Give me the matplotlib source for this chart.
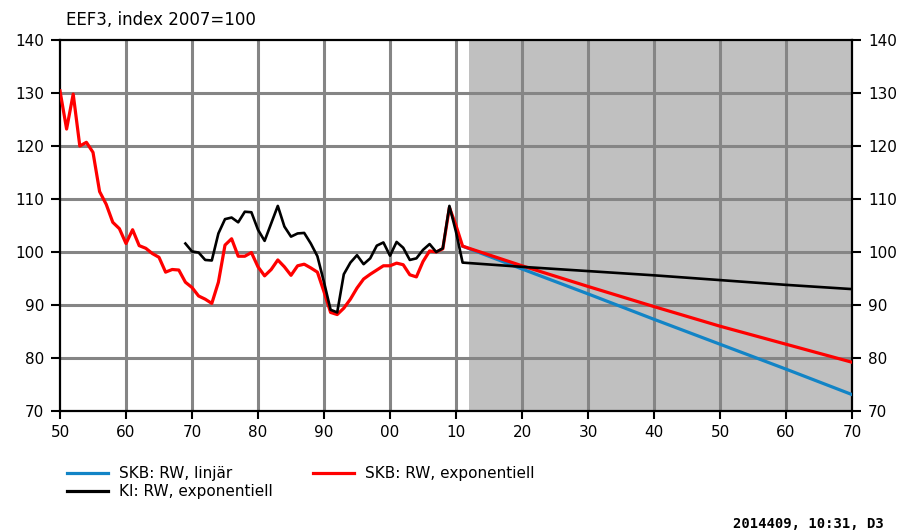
import matplotlib
matplotlib.use('Agg')
import matplotlib.pyplot as plt
from matplotlib.lines import Line2D

# SKB: RW, exponentiell - history 1950-2011
skb_years = list(range(1950, 2012))
skb_values = [130.4, 123.2, 129.8, 120.0, 120.7, 118.8, 111.4, 109.0, 105.6, 104.4,
              101.6, 104.2, 101.2, 100.7, 99.7, 99.0, 96.2, 96.7, 96.6, 94.3,
              93.3, 91.7, 91.1, 90.3, 94.3, 101.3, 102.5, 99.2, 99.2, 99.9,
              97.2, 95.5, 96.7, 98.5, 97.2, 95.6, 97.4, 97.7, 97.0, 96.2,
              92.5, 88.6, 88.2, 89.4, 91.1, 93.2, 94.9, 95.8, 96.6, 97.4,
              97.4, 97.9, 97.6, 95.7, 95.3, 98.2, 100.2, 100.0, 100.6, 108.4,
              105.0, 101.1]

# KI: RW, exponentiell - history 1969-2011
ki_years = list(range(1969, 2012))
ki_values = [101.6, 100.1, 99.9, 98.5, 98.4, 103.5, 106.2, 106.5, 105.6, 107.6,
             107.5, 104.2, 102.1, 105.4, 108.7, 104.8, 102.9, 103.5, 103.6, 101.6,
             99.2, 94.3, 89.1, 88.6, 95.8, 98.0, 99.4, 97.7, 98.8, 101.2,
             101.8, 99.3, 101.9, 100.8, 98.5, 98.8, 100.4, 101.5, 100.0, 100.7,
             108.7, 103.8, 98.0]

# projections 2011-2070
proj_years = [2011, 2020, 2030, 2040, 2050, 2060, 2070]
lin_proj = [101.1, 96.8, 92.1, 87.3, 82.6, 77.9, 73.1]
exp_proj = [101.1, 97.4, 93.5, 89.7, 86.0, 82.6, 79.2]
ki_proj = [98.0, 97.2, 96.4, 95.6, 94.7, 93.8, 93.0]

forecast_start = 2012
xticks = list(range(1950, 2071, 10))
xlabels = ['50', '60', '70', '80', '90', '00', '10', '20', '30', '40', '50', '60', '70']
yticks = list(range(70, 141, 10))

blue = '#1284c6'
red = '#ff0000'

fig = plt.figure(figsize=(9.03, 5.31), dpi=100)
ax = fig.add_axes([60 / 903, 1 - 411 / 531, 792 / 903, 371 / 531])

ax.axvspan(forecast_start, 2070, color='#c0c0c0', zorder=0, lw=0)
for x in xticks[1:-1]:
    ax.axvline(x, color='#858585', lw=2.2, zorder=0.5)
for y in yticks[1:-1]:
    ax.axhline(y, color='#858585', lw=2.2, zorder=0.5)

ax.plot(proj_years, lin_proj, color=blue, lw=2.3, zorder=3)
ax.plot(skb_years + proj_years[1:], skb_values + exp_proj[1:], color=red, lw=2.3, zorder=4)
ax.plot(ki_years + proj_years[1:], ki_values + ki_proj[1:], color='black', lw=1.9, zorder=5)

ax.set_xlim(1950, 2070)
ax.set_ylim(70, 140)
ax.set_xticks(xticks)
ax.set_xticklabels(xlabels)
ax.set_yticks(yticks)
ax.tick_params(axis='both', direction='out', length=6.5, width=1.5, labelsize=11, color='black')
ax.tick_params(axis='y', right=True, labelright=True, pad=5)
ax.tick_params(axis='x', length=6, pad=4)
for s in ax.spines.values():
    s.set_linewidth(1.6)

fig.text(66 / 903, 1 - 20 / 531, 'EEF3, index 2007=100', fontsize=12, va='center', ha='left')

h_blue = Line2D([], [], color=blue, lw=2.3)
h_red = Line2D([], [], color=red, lw=2.3)
h_black = Line2D([], [], color='black', lw=2.3)
fig.legend([h_blue, h_black], ['SKB: RW, linjär', 'KI: RW, exponentiell'],
           loc='upper left', bbox_to_anchor=(67 / 903, 1 - 466 / 531), frameon=False,
           fontsize=11, handlelength=2.7, handletextpad=0.7, labelspacing=0.2,
           borderaxespad=0, borderpad=0)
fig.legend([h_red], ['SKB: RW, exponentiell'],
           loc='upper left', bbox_to_anchor=(313 / 903, 1 - 466 / 531), frameon=False,
           fontsize=11, handlelength=2.7, handletextpad=0.7,
           borderaxespad=0, borderpad=0)

fig.text(884 / 903, 1 - 524 / 531, '2014409, 10:31, D3', fontsize=10, fontweight='bold',
         family='DejaVu Sans Mono', ha='right', va='center')

fig.savefig('out.png', dpi=100)
